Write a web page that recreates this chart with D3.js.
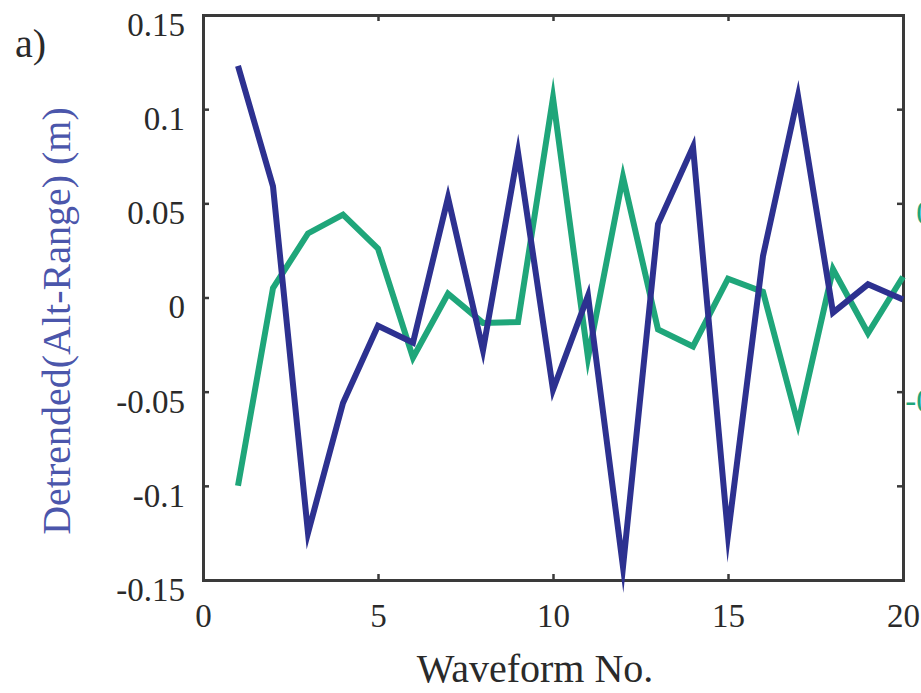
<!DOCTYPE html>
<html>
<head>
<meta charset="utf-8">
<script src="https://cdn.jsdelivr.net/npm/d3@7"></script>
<style>
    body { margin: 0; background: #fff; }
    svg { display: block; }
    text { font-family: "Liberation Serif", "DejaVu Serif", serif; }
</style>
</head>
<body>
<div id="chart"></div>
<script>
// waveform numbers 1..20
const waveformNo = d3.range(1, 21);
// detrended (alt - range), metres
const blueValues = [0.123, 0.059, -0.125, -0.056, -0.015, -0.024, 0.053, -0.028, 0.077, -0.049,
                    0.001, -0.143, 0.039, 0.080, -0.126, 0.022, 0.107, -0.008, 0.007, -0.001];
const greenValues = [-0.100, 0.005, 0.034, 0.044, 0.026, -0.032, 0.002, -0.0135, -0.013, 0.106,
                     -0.032, 0.064, -0.017, -0.026, 0.010, 0.003, -0.067, 0.015, -0.019, 0.011];
const xTicks = [0, 5, 10, 15, 20];
const yTicks = [0.15, 0.1, 0.05, 0, -0.05, -0.1, -0.15];
const rightLabels = [0.05, -0.05];

const width = 921, height = 693;
const margin = {top: 15, right: 18, bottom: 113, left: 203};
const BlueColor = '#2d3190';
const GreenColor = '#1fa67a';
const LabelBlue = '#4b56ab';
const AxisColor = '#3a3a3a';
const serif = '"Liberation Serif", "DejaVu Serif", serif';

const svg = d3.select("#chart").append("svg")
    .attr("width", width)
    .attr("height", height)
    .attr("font-family", serif);

const x = d3.scaleLinear().domain([0, 20]).range([margin.left, width - margin.right]);
const y = d3.scaleLinear().domain([-0.15, 0.15]).range([height - margin.bottom, margin.top]);

const fmt = d => d === 0 ? "0" : String(d);

// bottom axis
const xAxis = svg.append("g")
    .attr("transform", `translate(0,${y(-0.15)})`)
    .call(d3.axisBottom(x).tickValues(xTicks).tickSize(-6).tickPadding(24).tickFormat(fmt));
// left axis
const yAxis = svg.append("g")
    .attr("transform", `translate(${x(0)},0)`)
    .call(d3.axisLeft(y).tickValues(yTicks).tickSize(-6).tickPadding(18).tickFormat(fmt));
// top + right frame
svg.append("g")
    .attr("transform", `translate(0,${y(0.15)})`)
    .call(d3.axisTop(x).tickValues(xTicks).tickSize(-6).tickFormat(""));
svg.append("g")
    .attr("transform", `translate(${x(20)},0)`)
    .call(d3.axisRight(y).tickValues(yTicks).tickSize(-6).tickFormat(""));

svg.selectAll("g").attr("font-family", serif);
svg.selectAll(".domain").attr("stroke", AxisColor).attr("stroke-width", 3);
svg.selectAll(".tick line").attr("stroke", AxisColor).attr("stroke-width", 2.5);
svg.selectAll(".tick text")
    .attr("font-size", 33)
    .attr("fill", "#2a2a2a");
yAxis.selectAll(".tick text").attr("dy", "0.62em");

// green right-hand labels (cut off at the page edge, as in the original)
svg.append("g").selectAll("text")
    .data(rightLabels)
    .join("text")
    .attr("x", x(20) + 71)
    .attr("y", d => y(d))
    .attr("dy", "0.62em")
    .attr("text-anchor", "end")
    .attr("font-size", 33)
    .attr("fill", GreenColor)
    .text(d => String(d));

// series
const line = d3.line()
    .x((d, i) => x(waveformNo[i]))
    .y(d => y(d));

svg.append("path")
    .datum(greenValues)
    .attr("fill", "none")
    .attr("stroke", GreenColor)
    .attr("stroke-width", 6)
    .attr("stroke-miterlimit", 20)
    .attr("d", line);

svg.append("path")
    .datum(blueValues)
    .attr("fill", "none")
    .attr("stroke", BlueColor)
    .attr("stroke-width", 6)
    .attr("stroke-miterlimit", 20)
    .attr("d", line);

// axis titles
svg.append("text")
    .attr("x", 535)
    .attr("y", 682)
    .attr("text-anchor", "middle")
    .attr("font-size", 40)
    .attr("fill", "#2a2a2a")
    .text("Waveform No.");

svg.append("text")
    .attr("transform", "translate(70,321) rotate(-90)")
    .attr("text-anchor", "middle")
    .attr("font-size", 40)
    .attr("fill", LabelBlue)
    .text("Detrended(Alt-Range) (m)");

svg.append("text")
    .attr("x", 15)
    .attr("y", 57)
    .attr("font-size", 40)
    .attr("fill", "#2a2a2a")
    .text("a)");
</script>
</body>
</html>
